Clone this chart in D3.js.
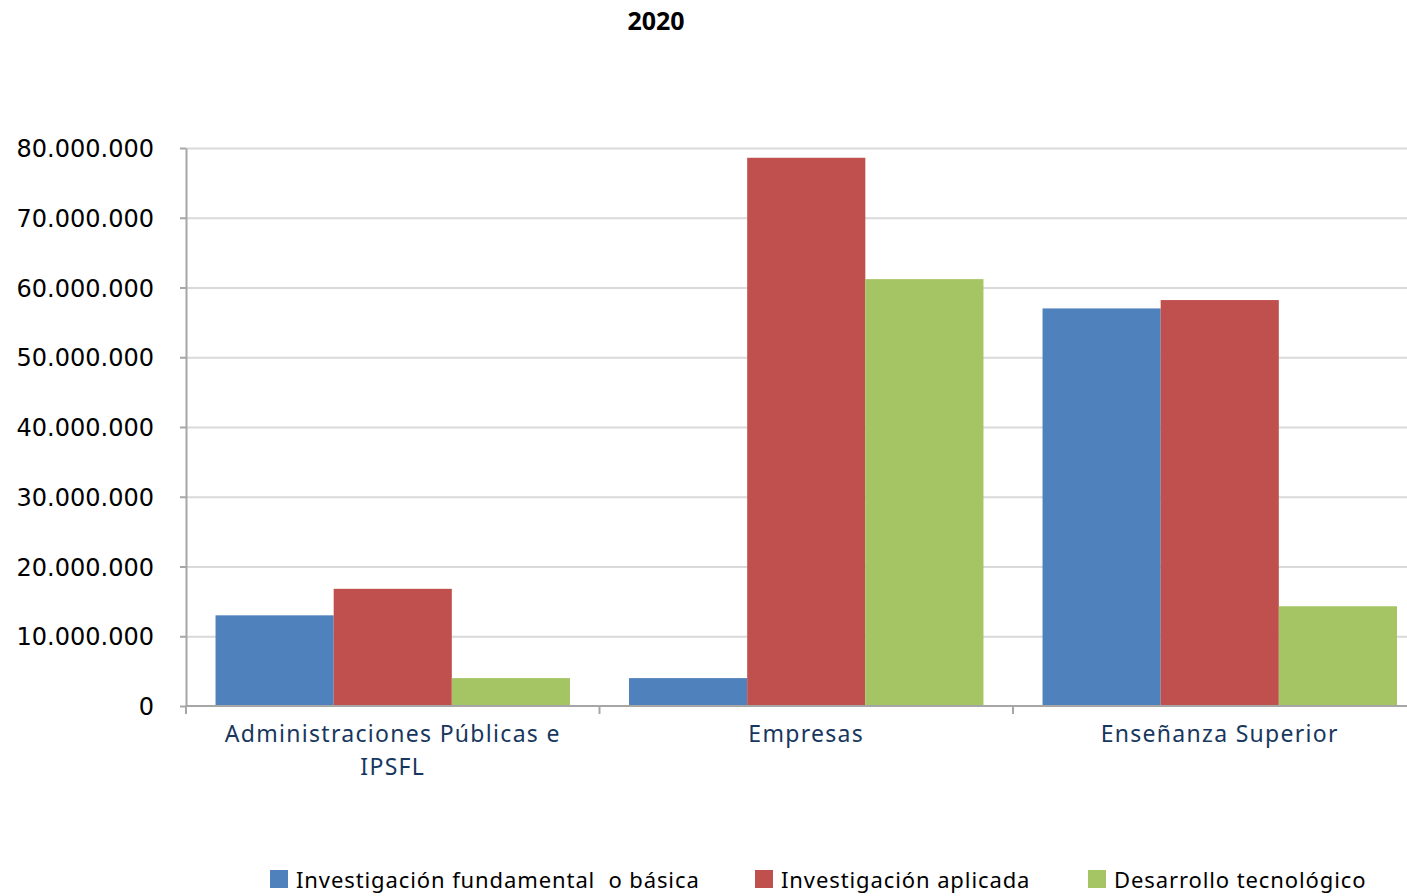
<!DOCTYPE html>
<meta charset="utf-8">
<style>
body { margin: 0; background: #fff; }
.grid line { stroke: #d9d9d9; stroke-width: 2px; }
.grid path { display: none; }
.yaxis text { font-family: "DejaVu Sans", sans-serif; font-size: 24px; fill: #000; }
.yaxis line, .yaxis path, .xline { stroke: #a6a6a6; stroke-width: 2px; }
.cat { font-family: "Noto Sans", sans-serif; font-size: 23px; fill: #17375e; letter-spacing: 1.3px; }
.legend text { font-family: "Noto Sans", sans-serif; font-size: 22px; fill: #000; letter-spacing: 0.9px; }
.title { font-family: "Noto Sans", sans-serif; font-size: 25px; font-weight: bold; }
</style>
<body>
<svg width="1407" height="896"></svg>
</body>
<script src="https://d3js.org/d3.v7.min.js"></script>
<script>
var categories = ["Administraciones Públicas e IPSFL", "Empresas", "Enseñanza Superior"];
var catLines = [["Administraciones Públicas e", "IPSFL"], ["Empresas"], ["Enseñanza Superior"]];
var series = ["Investigación fundamental  o básica", "Investigación aplicada", "Desarrollo tecnológico"];
var basica    = [13000000, 4000000, 57000000];
var aplicada  = [16800000, 78600000, 58200000];
var desarrollo = [4000000, 61200000, 14300000];
var yTicks = [0, 10000000, 20000000, 30000000, 40000000, 50000000, 60000000, 70000000, 80000000];
var colors = ["#4f81bd", "#c0504d", "#a5c463"];

var values = [basica, aplicada, desarrollo];
var data = categories.map(function(c, i) {
    return series.map(function(s, j) { return {cat: c, key: s, value: values[j][i], k: j}; });
});

var svg = d3.select("svg");
var plotLeft = 186, plotTop = 148, plotBottom = 706, bandW = 413.5;

var x0 = d3.scaleBand().domain(categories).range([plotLeft, plotLeft + bandW * 3]);
var x1 = d3.scaleBand().domain(series).range([0, x0.bandwidth()]).paddingOuter(0.25);
var y = d3.scaleLinear().domain([0, 80000000]).range([plotBottom, plotTop]);

var fmt = d3.formatLocale({decimal: ",", thousands: ".", grouping: [3], currency: ["", ""]}).format(",.0f");

// grid
svg.append("g")
    .attr("class", "grid")
    .attr("transform", "translate(" + plotLeft + ",0)")
    .call(d3.axisLeft(y).tickValues(yTicks.slice(1)).tickSize(-(1407 - plotLeft)).tickFormat(""));

// bars
svg.append("g").selectAll("g")
    .data(data)
    .enter().append("g")
    .attr("transform", function(d, i) { return "translate(" + x0(categories[i]) + ",0)"; })
    .selectAll("rect")
    .data(function(d) { return d; })
    .enter().append("rect")
    .attr("x", function(d) { return x1(d.key); })
    .attr("width", x1.bandwidth())
    .attr("y", function(d) { return y(d.value); })
    .attr("height", function(d) { return plotBottom - y(d.value); })
    .attr("fill", function(d) { return colors[d.k]; });

// y axis
var ya = svg.append("g")
    .attr("class", "yaxis")
    .attr("transform", "translate(" + plotLeft + ",0)")
    .call(d3.axisLeft(y).tickValues(yTicks).tickSize(6).tickPadding(26).tickFormat(fmt).tickSizeOuter(0));
ya.selectAll("text").attr("dy", "0.36em");

// x axis line and boundary ticks
svg.append("line").attr("class", "xline")
    .attr("x1", plotLeft).attr("x2", 1407).attr("y1", plotBottom).attr("y2", plotBottom);
svg.append("g").selectAll("line")
    .data(categories)
    .enter().append("line")
    .attr("class", "xline")
    .attr("x1", function(d) { return x0(d); })
    .attr("x2", function(d) { return x0(d); })
    .attr("y1", plotBottom).attr("y2", plotBottom + 8);

// category labels
svg.append("g").selectAll("text")
    .data(categories)
    .enter().append("text")
    .attr("class", "cat")
    .attr("text-anchor", "middle")
    .attr("x", function(d) { return x0(d) + x0.bandwidth() / 2; })
    .attr("y", 742)
    .selectAll("tspan")
    .data(function(d, i) { return catLines[i]; })
    .enter().append("tspan")
    .attr("x", function() { return this.parentNode.getAttribute("x"); })
    .attr("dy", function(d, i) { return i ? 33 : 0; })
    .text(function(d) { return d; });

// title
svg.append("text").attr("class", "title")
    .attr("x", 656).attr("y", 30).attr("text-anchor", "middle").text("2020");

// legend
var legX = [270, 755, 1088];
var leg = svg.append("g").attr("class", "legend").selectAll("g")
    .data(series)
    .enter().append("g")
    .attr("transform", function(d, i) { return "translate(" + legX[i] + ",870)"; });
leg.append("rect").attr("width", 18).attr("height", 18).attr("fill", function(d, i) { return colors[i]; });
leg.append("text").attr("x", 26).attr("y", 17.5)
    .style("white-space", "pre").text(function(d) { return d; });
</script>
